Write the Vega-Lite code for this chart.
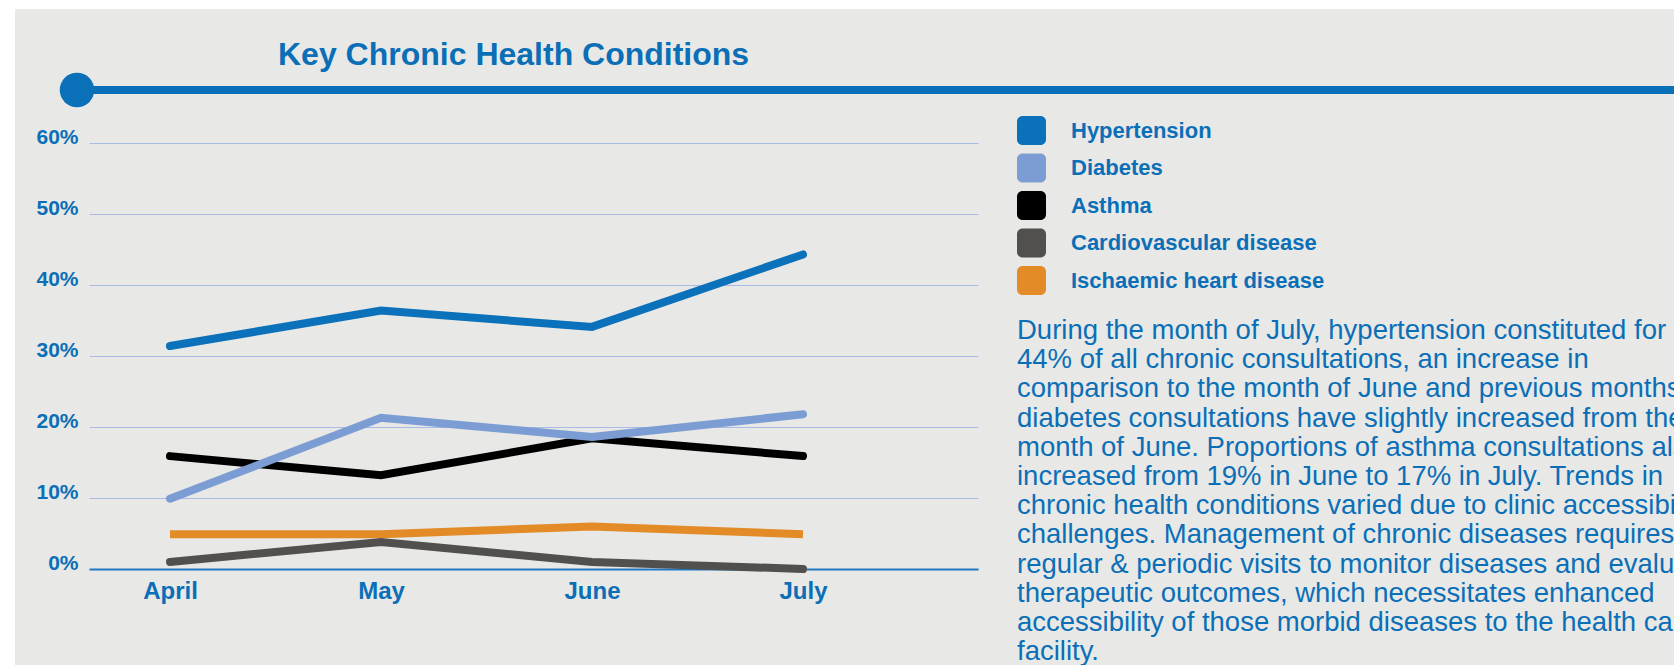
{
  "$schema": "https://vega.github.io/schema/vega-lite/v6.json",
  "width": 889,
  "height": 426,
  "autosize": {"type": "none"},
  "padding": {"left": 89, "top": 143, "right": 696, "bottom": 96},
  "background": "#e8e8e6",
  "title": {
    "text": "Key Chronic Health Conditions",
    "font": "Liberation Sans",
    "fontSize": 32,
    "fontWeight": "bold",
    "color": "#0b6fb7",
    "anchor": "start",
    "frame": "group",
    "dx": 189,
    "baseline": "alphabetic",
    "offset": -96.5
  },
  "data": {
    "values": [
      {"condition": "Ischaemic heart disease", "month": "April", "share": 4.9},
      {"condition": "Ischaemic heart disease", "month": "May", "share": 4.9},
      {"condition": "Ischaemic heart disease", "month": "June", "share": 6.0},
      {"condition": "Ischaemic heart disease", "month": "July", "share": 4.9},
      {"condition": "Asthma", "month": "April", "share": 15.9},
      {"condition": "Asthma", "month": "May", "share": 13.2},
      {"condition": "Asthma", "month": "June", "share": 18.4},
      {"condition": "Asthma", "month": "July", "share": 15.9},
      {"condition": "Cardiovascular disease", "month": "April", "share": 1.0},
      {"condition": "Cardiovascular disease", "month": "May", "share": 3.8},
      {"condition": "Cardiovascular disease", "month": "June", "share": 1.0},
      {"condition": "Cardiovascular disease", "month": "July", "share": 0.0},
      {"condition": "Diabetes", "month": "April", "share": 9.9},
      {"condition": "Diabetes", "month": "May", "share": 21.3},
      {"condition": "Diabetes", "month": "June", "share": 18.6},
      {"condition": "Diabetes", "month": "July", "share": 21.8},
      {"condition": "Hypertension", "month": "April", "share": 31.4},
      {"condition": "Hypertension", "month": "May", "share": 36.4},
      {"condition": "Hypertension", "month": "June", "share": 34.1},
      {"condition": "Hypertension", "month": "July", "share": 44.3}
    ]
  },
  "layer": [
    {
      "data": {"values": [{}]},
      "mark": {"type": "rule", "color": "#0a70b8", "strokeWidth": 8},
      "encoding": {"x": {"value": -12}, "x2": {"value": 1600}, "y": {"value": -53}}
    },
    {
      "data": {"values": [{}]},
      "mark": {"type": "point", "filled": true, "color": "#0a70b8", "opacity": 1, "size": 1195, "shape": "circle"},
      "encoding": {"x": {"value": -12}, "y": {"value": -53}}
    },
    {
      "data": {"values": [{}]},
      "mark": {"type": "rect", "color": "#ffffff"},
      "encoding": {"x": {"value": -89}, "x2": {"value": -74}, "y": {"value": -143}, "y2": {"value": 522}}
    },
    {
      "data": {"values": [{}]},
      "mark": {"type": "rect", "color": "#ffffff"},
      "encoding": {"x": {"value": -89}, "x2": {"value": 1585}, "y": {"value": -143}, "y2": {"value": -134}}
    },
    {
      "encoding": {
        "x": {
          "field": "month", "type": "ordinal",
          "sort": ["April", "May", "June", "July"],
          "scale": {"type": "point", "domain": ["April", "May", "June", "July"], "padding": 0.6066, "align": 0.3164},
          "axis": {
            "title": null, "labelAngle": 0, "labelAlign": "center", "labelBaseline": "top",
            "ticks": false, "grid": false,
            "domain": true, "domainColor": "#1f78c1", "domainWidth": 2,
            "labelFont": "Liberation Sans", "labelFontSize": 24, "labelFontWeight": "bold",
            "labelColor": "#0b6fb7", "labelPadding": 10
          }
        },
        "y": {
          "field": "share", "type": "quantitative",
          "scale": {"domain": [0, 60], "nice": false},
          "axis": {
            "title": null, "values": [0, 10, 20, 30, 40, 50, 60],
            "labelExpr": "datum.value + '%'",
            "ticks": false, "domain": false, "grid": true,
            "gridColor": "#a8bbe2", "gridWidth": 1.2,
            "labelFont": "Liberation Sans", "labelFontSize": 21, "labelFontWeight": "bold",
            "labelColor": "#0b6fb7", "labelPadding": 11, "labelBaseline": "alphabetic", "labelAlign": "right"
          }
        },
        "color": {
          "field": "condition", "type": "nominal",
          "scale": {
            "domain": ["Hypertension", "Diabetes", "Asthma", "Cardiovascular disease", "Ischaemic heart disease"],
            "range": ["#0a71ba", "#7b9dd3", "#000000", "#52504e", "#e38b26"]
          },
          "legend": {
            "orient": "none",
            "legendX": 928,
            "legendY": -27,
            "padding": 0,
            "direction": "vertical",
            "symbolType": "M-0.62,-1H0.62A0.38,0.38 0 0 1 1,-0.62V0.62A0.38,0.38 0 0 1 0.62,1H-0.62A0.38,0.38 0 0 1 -1,0.62V-0.62A0.38,0.38 0 0 1 -0.62,-1Z",
            "symbolSize": 841,
            "symbolStrokeWidth": 0,
            "symbolOpacity": 1,
            "rowPadding": 8.5,
            "labelFont": "Liberation Sans",
            "labelFontSize": 22,
            "labelFontWeight": "bold",
            "labelColor": "#0b6fb7",
            "labelOffset": 25,
            "labelLimit": 500,
            "title": [
              "During the month of July, hypertension constituted for",
              "44% of all chronic consultations, an increase in",
              "comparison to the month of June and previous months.",
              "diabetes consultations have slightly increased from the",
              "month of June. Proportions of asthma consultations also",
              "increased from 19% in June to 17% in July. Trends in",
              "chronic health conditions varied due to clinic accessibility",
              "challenges. Management of chronic diseases requires",
              "regular & periodic visits to monitor diseases and evaluate",
              "therapeutic outcomes, which necessitates enhanced",
              "accessibility of those morbid diseases to the health care",
              "facility."
            ],
            "titleOrient": "bottom",
            "titleAnchor": "start",
            "titleAlign": "left",
            "titleFont": "Liberation Sans",
            "titleFontSize": 27.5,
            "titleFontWeight": "normal",
            "titleColor": "#0b6fb7",
            "titleLineHeight": 29.2,
            "titleLimit": 2000,
            "titlePadding": 22,
            "encode": {
              "symbols": {
                "update": {
                  "fill": {"scale": "color", "field": "value"},
                  "strokeWidth": {"value": 0},
                  "opacity": {"value": 1}
                }
              }
            }
          }
        }
      },
      "layer": [
        {
          "transform": [{"filter": "datum.condition === 'Ischaemic heart disease'"}],
          "mark": {"type": "line", "strokeWidth": 8, "strokeCap": "butt"}
        },
        {
          "transform": [{"filter": "datum.condition !== 'Ischaemic heart disease'"}],
          "mark": {"type": "line", "strokeWidth": 8, "strokeCap": "round", "strokeJoin": "miter"}
        }
      ]
    }
  ],
  "config": {
    "view": {"stroke": null}
  }
}
